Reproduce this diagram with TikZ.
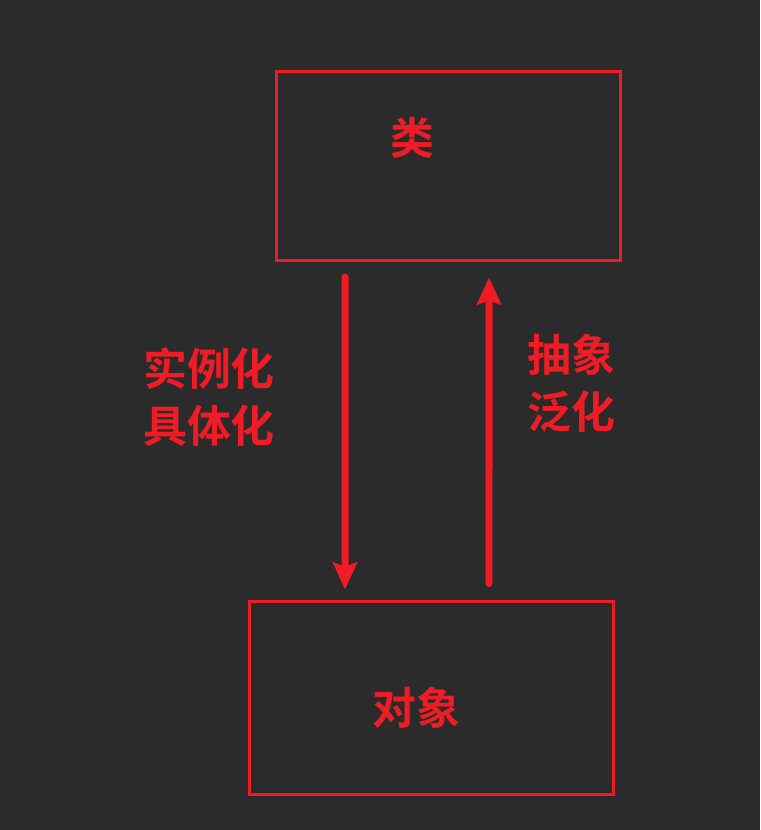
\documentclass[tikz,border=0pt]{standalone}
\usepackage{fontspec}
\usetikzlibrary{arrows.meta}
\newfontfamily\cjk{Noto Sans CJK SC}[BoldFont=Noto Sans CJK SC Bold]
\definecolor{bgdark}{HTML}{2B2B2B}
\definecolor{mainred}{HTML}{EE1C25}

\begin{document}
\begin{tikzpicture}[
            x=0.02cm, y=-0.02cm,
            box/.style={draw=mainred, line width=0.06cm, rectangle, inner sep=0pt},
            word/.style={text=mainred, font=\cjk\bfseries\fontsize{25pt}{32.4pt}\selectfont, align=center, inner sep=0pt},
            flow/.style={draw=mainred, line width=0.14cm, line cap=round,
                -{Stealth[length=0.54cm, width=0.48cm, inset=0.08cm]}}
        ]
            % Background
            \fill[bgdark] (0,0) rectangle (760,830);
            \useasboundingbox (0,0) rectangle (760,830);

            % Boxes
            \node[box, minimum width=6.9cm, minimum height=3.8cm] (cls) at (448.5,166) {};
            \node[box, minimum width=7.3cm, minimum height=3.88cm] (obj) at (431.5,698) {};

            % Box labels
            \node[word] (clstext) at (412,138) {类};
            \node[word] (objtext) at (416,708) {对象};

            % Arrows
            \draw[flow] ([xshift=-2.07cm, yshift=-0.29cm]cls.south) -- ([xshift=-1.73cm, yshift=0.2cm]obj.north);
            \draw[flow] ([xshift=1.15cm, yshift=0.32cm]obj.north) -- ([xshift=0.81cm, yshift=-0.3cm]cls.south);

            % Arrow labels
            \node[word] (down) at (209,397) {实例化\\具体化};
            \node[word] (up) at (571,383) {抽象\\泛化};
        \end{tikzpicture}
\end{document}
